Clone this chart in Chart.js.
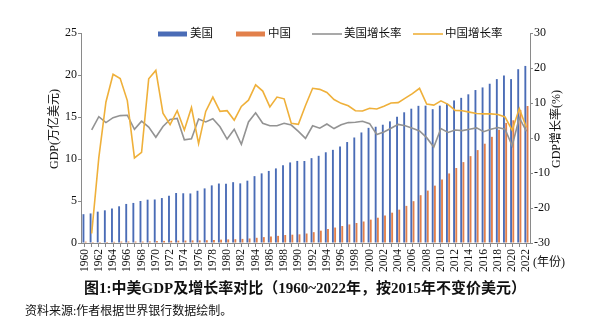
<!DOCTYPE html>
<html>
<head>
<meta charset="utf-8">
<title>中美GDP及增长率对比</title>
<script src="https://cdn.jsdelivr.net/npm/chart.js@4.4.1/dist/chart.umd.min.js"></script>
<style>
  body { margin: 0; background: #fff; }
  #wrap { width: 599px; height: 323px; }
</style>
</head>
<body>
<div id="wrap"><canvas id="gdpChart" width="599" height="323"></canvas></div>
<script>
// 年份
var years = [
    1960, 1961, 1962, 1963, 1964, 1965, 1966, 1967, 1968, 1969,
    1970, 1971, 1972, 1973, 1974, 1975, 1976, 1977, 1978, 1979,
    1980, 1981, 1982, 1983, 1984, 1985, 1986, 1987, 1988, 1989,
    1990, 1991, 1992, 1993, 1994, 1995, 1996, 1997, 1998, 1999,
    2000, 2001, 2002, 2003, 2004, 2005, 2006, 2007, 2008, 2009,
    2010, 2011, 2012, 2013, 2014, 2015, 2016, 2017, 2018, 2019,
    2020, 2021, 2022
];

// GDP, 万亿美元 (2015年不变价)
var usGdp = [
    3.43, 3.52, 3.73, 3.89, 4.11, 4.37, 4.65, 4.77, 5.00, 5.16,
    5.18, 5.35, 5.63, 5.95, 5.92, 5.90, 6.22, 6.50, 6.86, 7.08,
    7.06, 7.24, 7.10, 7.42, 7.96, 8.29, 8.58, 8.88, 9.25, 9.59,
    9.77, 9.76, 10.10, 10.38, 10.80, 11.09, 11.50, 12.02, 12.56, 13.16,
    13.71, 13.84, 14.08, 14.48, 15.04, 15.56, 15.99, 16.33, 16.35, 15.93,
    16.35, 16.60, 16.97, 17.28, 17.70, 18.21, 18.52, 18.96, 19.51, 19.95,
    19.51, 20.69, 21.08
];
var cnGdp = [
    0.16, 0.11, 0.11, 0.12, 0.14, 0.17, 0.18, 0.17, 0.17, 0.19,
    0.23, 0.25, 0.26, 0.28, 0.29, 0.31, 0.31, 0.33, 0.37, 0.40,
    0.43, 0.45, 0.49, 0.54, 0.62, 0.70, 0.76, 0.85, 0.95, 0.99,
    1.03, 1.13, 1.29, 1.47, 1.66, 1.84, 2.02, 2.21, 2.38, 2.56,
    2.78, 3.01, 3.28, 3.61, 3.97, 4.42, 4.98, 5.69, 6.24, 6.83,
    7.55, 8.28, 8.93, 9.63, 10.34, 11.06, 11.82, 12.64, 13.49, 14.30,
    14.61, 15.84, 16.31
];

// 增长率, %
var usGrowth = [
    null, 2.3, 6.1, 4.4, 5.8, 6.4, 6.5, 2.5, 4.8, 3.1,
    0.2, 3.3, 5.3, 5.6, -0.5, -0.2, 5.4, 4.6, 5.5, 3.2,
    -0.3, 2.5, -1.8, 4.6, 7.2, 4.2, 3.5, 3.5, 4.2, 3.7,
    1.9, -0.1, 3.5, 2.8, 4.0, 2.7, 3.8, 4.4, 4.5, 4.8,
    4.1, 1.0, 1.7, 2.8, 3.9, 3.5, 2.8, 2.0, 0.1, -2.6,
    2.7, 1.6, 2.3, 2.1, 2.5, 2.9, 1.8, 2.5, 3.0, 2.5,
    -2.2, 5.8, 1.9
];
var cnGrowth = [
    null, -27.3, -5.6, 10.3, 18.2, 17.0, 10.7, -5.7, -4.1, 16.9,
    19.3, 7.1, 3.8, 7.8, 2.3, 8.7, -1.6, 7.6, 11.7, 7.6,
    7.8, 5.1, 9.0, 10.8, 15.2, 13.4, 8.9, 11.7, 11.2, 4.2,
    3.9, 9.3, 14.2, 13.9, 13.0, 11.0, 9.9, 9.2, 7.8, 7.7,
    8.5, 8.3, 9.1, 10.0, 10.1, 11.4, 12.7, 14.2, 9.7, 9.4,
    10.6, 9.6, 7.9, 7.8, 7.4, 7.0, 6.9, 6.9, 6.7, 6.0,
    2.2, 8.4, 3.0
];

// 坐标轴刻度
var gdpTicks = [0, 5, 10, 15, 20, 25];
var growthTicks = [-30, -20, -10, 0, 10, 20, 30];

var FONT = "'Liberation Serif', 'Noto Sans CJK SC', serif";
var AXIS_GRAY = '#8a8a8a';

function drawRotated(ctx, text, x, y) {
    ctx.save();
    ctx.translate(x, y);
    ctx.rotate(-Math.PI / 2);
    ctx.textAlign = 'center';
    ctx.textBaseline = 'middle';
    ctx.fillText(text, 0, 0);
    ctx.restore();
}

// legend inside the plot, axis titles, caption lines under the chart
var captionPlugin = {
    id: 'captions',
    afterDraw: function (chart) {
        var ctx = chart.ctx;
        var ds = chart.data.datasets;
        var slots = [158, 236, 312, 413];
        var y = 34;

        ctx.save();
        ctx.font = '11.5px ' + FONT;
        ctx.textBaseline = 'middle';
        ctx.textAlign = 'left';
        for (var i = 0; i < ds.length; i++) {
            var x = slots[i];
            if (ds[i].type === 'bar') {
                ctx.fillStyle = ds[i].backgroundColor;
                ctx.fillRect(x, y - 2.5, 29, 5);
            } else {
                ctx.strokeStyle = ds[i].borderColor;
                ctx.lineWidth = 1.6;
                ctx.beginPath();
                ctx.moveTo(x, y);
                ctx.lineTo(x + 30, y);
                ctx.stroke();
            }
            ctx.fillStyle = '#111';
            ctx.fillText(ds[i].label, x + 32, y);
        }

        // both axis titles read bottom to top
        ctx.font = '12px ' + FONT;
        drawRotated(ctx, 'GDP(万亿美元)', 55, 129);
        drawRotated(ctx, 'GDP增长率(%)', 557, 129);

        ctx.textAlign = 'left';
        ctx.fillText('(年份)', 533, 263);

        ctx.font = 'bold 15px ' + FONT;
        ctx.textAlign = 'center';
        ctx.fillText('图1:中美GDP及增长率对比（1960~2022年，按2015年不变价美元）', 305, 289);

        ctx.font = '12px ' + FONT;
        ctx.textAlign = 'left';
        ctx.fillText('资料来源:作者根据世界银行数据绘制。', 25, 312);
        ctx.restore();
    }
};

Chart.defaults.font.family = FONT;
Chart.defaults.color = '#111';

var ctx = document.getElementById('gdpChart');
var gdpChart = new Chart(ctx, {
    type: 'bar',
    data: {
        labels: years,
        datasets: [
            {
                type: 'bar',
                label: '美国',
                data: usGdp,
                backgroundColor: '#4a6cb6',
                borderWidth: 0,
                categoryPercentage: 0.62,
                barPercentage: 0.85,
                yAxisID: 'y',
                order: 2
            },
            {
                type: 'bar',
                label: '中国',
                data: cnGdp,
                backgroundColor: '#e2804b',
                borderWidth: 0,
                categoryPercentage: 0.62,
                barPercentage: 0.85,
                yAxisID: 'y',
                order: 2
            },
            {
                type: 'line',
                label: '美国增长率',
                data: usGrowth,
                borderColor: '#939393',
                backgroundColor: '#939393',
                borderWidth: 1.6,
                pointRadius: 0,
                tension: 0,
                yAxisID: 'y2',
                order: 1
            },
            {
                type: 'line',
                label: '中国增长率',
                data: cnGrowth,
                borderColor: '#efb03a',
                backgroundColor: '#efb03a',
                borderWidth: 1.6,
                pointRadius: 0,
                tension: 0,
                yAxisID: 'y2',
                order: 0
            }
        ]
    },
    options: {
        responsive: false,
        animation: false,
        layout: {
            padding: { top: 33, left: 0, right: 0, bottom: 0 }
        },
        plugins: {
            legend: { display: false },
            tooltip: { enabled: false }
        },
        scales: {
            x: {
                afterFit: function (scale) { scale.height = 80; },
                border: { display: true, color: AXIS_GRAY, width: 1 },
                grid: {
                    offset: false,
                    drawOnChartArea: false,
                    drawTicks: true,
                    tickLength: 4,
                    tickColor: AXIS_GRAY
                },
                ticks: {
                    autoSkip: false,
                    maxRotation: 90,
                    minRotation: 90,
                    padding: 2,
                    font: { size: 11.5 },
                    callback: function (value, index) {
                        return years[index] % 2 === 0 ? String(years[index]) : '';
                    }
                }
            },
            y: {
                position: 'left',
                min: gdpTicks[0],
                max: gdpTicks[gdpTicks.length - 1],
                afterFit: function (scale) { scale.width = 81; },
                border: { display: true, color: AXIS_GRAY, width: 1 },
                grid: {
                    drawOnChartArea: false,
                    tickLength: 3,
                    tickColor: AXIS_GRAY
                },
                ticks: {
                    stepSize: gdpTicks[1] - gdpTicks[0],
                    padding: 1,
                    font: { size: 12 }
                }
            },
            y2: {
                position: 'right',
                min: growthTicks[0],
                max: growthTicks[growthTicks.length - 1],
                afterFit: function (scale) { scale.width = 69; },
                border: { display: true, color: AXIS_GRAY, width: 1 },
                grid: {
                    drawOnChartArea: false,
                    tickLength: 3,
                    tickColor: AXIS_GRAY
                },
                ticks: {
                    stepSize: growthTicks[1] - growthTicks[0],
                    padding: 1,
                    font: { size: 12 }
                }
            }
        }
    },
    plugins: [captionPlugin]
});
</script>
</body>
</html>
